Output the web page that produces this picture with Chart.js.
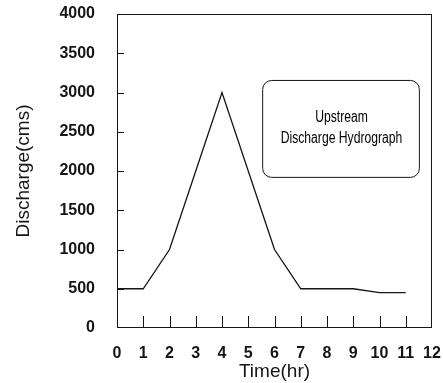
<!DOCTYPE html>
<html>
<head>
<meta charset="utf-8">
<script src="https://cdn.jsdelivr.net/npm/chart.js@4"></script>
<style>
  html, body { margin: 0; padding: 0; background: #fff; }
  #wrap { width: 443px; height: 383px; }
</style>
</head>
<body>
<div id="wrap"><canvas id="hydroChart" width="443" height="383"></canvas></div>
<script>
// upstream discharge hydrograph
const hours = [0, 1, 2, 3, 4, 5, 6, 7, 8, 9, 10, 11];
const discharge = [500, 500, 1000, 2000, 3000, 2000, 1000, 500, 500, 500, 450, 450];
const xTicks = [0, 1, 2, 3, 4, 5, 6, 7, 8, 9, 10, 11, 12];
const yTicks = [0, 500, 1000, 1500, 2000, 2500, 3000, 3500, 4000];
const noteLines = ['Upstream', 'Discharge Hydrograph'];

const ink = '#151515';

// frame + inward tick marks + the note box
const framePlugin = {
    id: 'frame',
    afterDraw(chart) {
        const ctx = chart.ctx;
        const area = chart.chartArea;
        const xs = chart.scales.x;
        const ys = chart.scales.y;
        ctx.save();
        ctx.strokeStyle = ink;
        ctx.lineWidth = 1;
        ctx.strokeRect(area.left + 0.5, area.top + 0.5, area.right - area.left - 1, area.bottom - area.top - 1);

        ctx.beginPath();
        xTicks.slice(1, -1).forEach(v => {
            const px = Math.round(xs.getPixelForValue(v)) + 0.5;
            ctx.moveTo(px, area.bottom);
            ctx.lineTo(px, area.bottom - 12);
        });
        yTicks.slice(1, -1).forEach(v => {
            const py = Math.round(ys.getPixelForValue(v)) + 0.5;
            ctx.moveTo(area.left, py);
            ctx.lineTo(area.left + 7, py);
        });
        ctx.stroke();

        // rounded note box, placed in data units
        const bx0 = xs.getPixelForValue(5.53);
        const bx1 = xs.getPixelForValue(11.5);
        const by0 = ys.getPixelForValue(3160);
        const by1 = ys.getPixelForValue(1925);
        const r = 9;
        ctx.beginPath();
        ctx.roundRect(bx0 + 0.5, by0 + 0.5, bx1 - bx0, by1 - by0, r);
        ctx.stroke();

        // condensed lettering: squeeze the text horizontally
        const cx = (bx0 + bx1) / 2 + 1;
        ctx.fillStyle = '#000';
        ctx.textAlign = 'center';
        ctx.textBaseline = 'middle';
        ctx.font = '16px "Liberation Sans", Arial, sans-serif';
        ctx.translate(cx, 0);
        ctx.scale(0.76, 1);
        ctx.fillText(noteLines[0], 0, by0 + 38);
        ctx.fillText(noteLines[1], 0, by0 + 59);
        ctx.restore();
    }
};

const ctx = document.getElementById('hydroChart').getContext('2d');
const hydroChart = new Chart(ctx, {
    type: 'line',
    data: {
        datasets: [{
            data: hours.map((h, i) => ({ x: h, y: discharge[i] })),
            borderColor: ink,
            borderWidth: 1.3,
            pointRadius: 0,
            tension: 0,
            fill: false,
        }],
    },
    options: {
        responsive: false,
        animation: false,
        layout: { padding: { top: 14, right: 11, left: 0, bottom: 0 } },
        plugins: {
            legend: { display: false },
            tooltip: { enabled: false },
        },
        scales: {
            x: {
                type: 'linear',
                min: 0,
                max: 12,
                afterBuildTicks: (scale) => { scale.ticks = xTicks.map(v => ({ value: v })); },
                afterFit: (scale) => {
                    scale.height = 55;
                    scale.paddingLeft = 0;
                    scale.paddingRight = 0;
                },
                grid: { display: false },
                border: { display: false },
                ticks: {
                    color: ink,
                    padding: 8,
                    maxRotation: 0,
                    autoSkip: false,
                    callback: (v) => String(v),
                    font: { family: '"Liberation Sans", Arial, sans-serif', size: 16, weight: 'bold' },
                },
                title: {
                    display: true,
                    text: 'Time(hr)',
                    color: ink,
                    padding: { top: 0, bottom: 0 },
                    font: { family: '"Liberation Sans", Arial, sans-serif', size: 19 },
                },
            },
            y: {
                min: 0,
                max: 4000,
                afterBuildTicks: (scale) => { scale.ticks = yTicks.map(v => ({ value: v })); },
                afterFit: (scale) => {
                    scale.width = 117;
                    scale.paddingTop = 0;
                    scale.paddingBottom = 0;
                },
                grid: { display: false },
                border: { display: false },
                ticks: {
                    color: ink,
                    padding: 14,
                    callback: (v) => String(v),
                    font: { family: '"Liberation Sans", Arial, sans-serif', size: 16, weight: 'bold' },
                },
                title: {
                    display: true,
                    text: 'Discharge(cms)',
                    color: ink,
                    padding: { top: 12, bottom: 0 },
                    font: { family: '"Liberation Sans", Arial, sans-serif', size: 19 },
                },
            },
        },
    },
    plugins: [framePlugin],
});
</script>
</body>
</html>
